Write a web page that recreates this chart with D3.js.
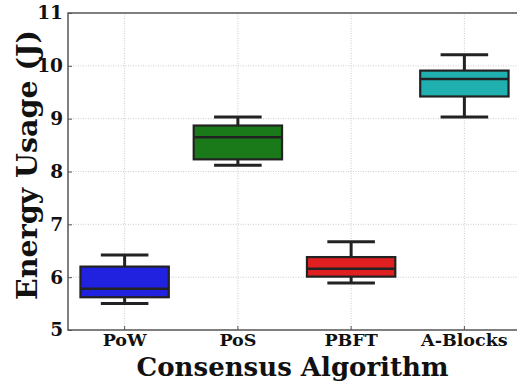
<!DOCTYPE html>
<html>
<head>
<meta charset="utf-8">
<script src="https://cdn.jsdelivr.net/npm/d3@7"></script>
<style>
  body { margin: 0; background: #fff; }
  svg text { font-family: "DejaVu Serif", serif; font-weight: bold; fill: #111; }
  .grid line { stroke: #ccc; stroke-dasharray: 1,1.5; }
</style>
</head>
<body>
<div id="chart"></div>
<script>
const algorithms = ['PoW', 'PoS', 'PBFT', 'A-Blocks'];
const whiskerLow  = [5.50, 8.12, 5.89, 9.03];
const boxLow      = [5.62, 8.23, 6.01, 9.42];
const medians     = [5.78, 8.65, 6.16, 9.75];
const boxHigh     = [6.20, 8.87, 6.38, 9.91];
const whiskerHigh = [6.42, 9.03, 6.67, 10.21];
const boxColors   = ['#2121e0', '#1a7a1a', '#e02020', '#20b0b0'];
const yTicks = [5, 6, 7, 8, 9, 10, 11];

document.addEventListener('DOMContentLoaded', function(){
    drawChart();
});

function drawChart() {
    const W = 517, H = 386;
    const left = 68, top = 13, right = 521, bottom = 330;
    const svg = d3.select('#chart').append('svg').attr('width', W).attr('height', H);

    const x = d3.scaleBand().domain(algorithms).range([left, right]);
    const y = d3.scaleLinear().domain([5, 11]).range([bottom, top]);
    const step = x.bandwidth();

    // grid
    const grid = svg.append('g').attr('class', 'grid');
    grid.selectAll('.h').data(yTicks.slice(1, -1)).enter().append('line')
        .attr('x1', left).attr('x2', right)
        .attr('y1', d => y(d)).attr('y2', d => y(d));
    grid.selectAll('.v').data(algorithms).enter().append('line')
        .attr('x1', d => x(d) + step / 2).attr('x2', d => x(d) + step / 2)
        .attr('y1', top).attr('y2', bottom);

    // frame
    svg.append('rect').attr('x', left).attr('y', top)
        .attr('width', right - left).attr('height', bottom - top)
        .attr('fill', 'none').attr('stroke', '#555').attr('stroke-width', 1.5);

    // boxes
    const boxW = step * 0.78, capW = step * 0.42;
    const g = svg.selectAll('.box').data(algorithms).enter().append('g')
        .attr('transform', d => 'translate(' + (x(d) + step / 2) + ',0)');

    g.append('line')
        .attr('x1', 0).attr('x2', 0)
        .attr('y1', (d, i) => y(whiskerLow[i])).attr('y2', (d, i) => y(whiskerHigh[i]))
        .attr('stroke', '#222').attr('stroke-width', 3);
    g.append('rect')
        .attr('x', -boxW / 2).attr('width', boxW)
        .attr('y', (d, i) => y(boxHigh[i]))
        .attr('height', (d, i) => y(boxLow[i]) - y(boxHigh[i]))
        .attr('fill', (d, i) => boxColors[i])
        .attr('stroke', '#222').attr('stroke-width', 2.2);
    g.append('line')
        .attr('x1', -boxW / 2).attr('x2', boxW / 2)
        .attr('y1', (d, i) => y(medians[i])).attr('y2', (d, i) => y(medians[i]))
        .attr('stroke', '#222').attr('stroke-width', 2.5);
    [whiskerLow, whiskerHigh].forEach(function(arr) {
        g.append('line')
            .attr('x1', -capW / 2).attr('x2', capW / 2)
            .attr('y1', (d, i) => y(arr[i])).attr('y2', (d, i) => y(arr[i]))
            .attr('stroke', '#222').attr('stroke-width', 3);
    });

    // axes (ticks point inward like the original)
    const yAxis = svg.append('g').attr('transform', 'translate(' + left + ',0)')
        .call(d3.axisLeft(y).tickValues(yTicks).tickFormat(d3.format('d')).tickSize(-4).tickPadding(5));
    const xAxis = svg.append('g').attr('transform', 'translate(0,' + bottom + ')')
        .call(d3.axisBottom(x).tickSize(-4).tickPadding(4));
    [yAxis, xAxis].forEach(function(a) {
        a.select('.domain').remove();
        a.selectAll('line').attr('stroke', '#555');
        a.selectAll('text').attr('fill', '#111');
    });
    yAxis.selectAll('text').style('font-size', '18.5px');
    xAxis.selectAll('text').style('font-size', '17.5px');

    svg.append('text').attr('x', (left + right) / 2 - 2).attr('y', 376)
        .attr('text-anchor', 'middle').style('font-size', '26px')
        .text('Consensus Algorithm');
    svg.append('text')
        .attr('transform', 'translate(27,165) rotate(-90)')
        .attr('text-anchor', 'middle').attr('dy', '0.35em').style('font-size', '28.5px')
        .text('Energy Usage (J)');
}
</script>
</body>
</html>
